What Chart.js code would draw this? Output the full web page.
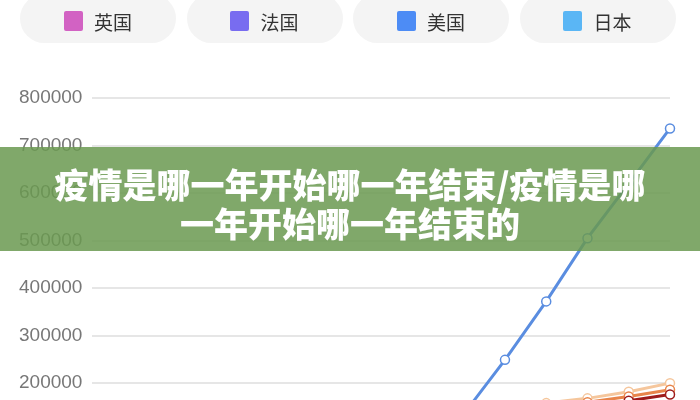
<!DOCTYPE html>
<html>
<head>
<meta charset="utf-8">
<script src="https://cdn.jsdelivr.net/npm/chart.js@4/dist/chart.umd.min.js"></script>
<style>
html,body{margin:0;padding:0;width:700px;height:400px;overflow:hidden;background:#fff;}
#wrap{position:absolute;left:0;top:0;width:700px;height:509px;}
#legend{position:absolute;left:0;top:0;width:700px;height:50px;}
.pill{position:absolute;top:-6px;width:156px;height:49px;border-radius:25px;background:#f4f4f4;
  display:flex;align-items:center;justify-content:center;padding-top:5px;box-sizing:border-box;
  font:19px "Noto Sans CJK SC",sans-serif;color:#333;}
.pill i{display:inline-block;width:19px;height:20px;border-radius:2px;margin-right:11px;}
#banner{position:absolute;left:0;top:147px;width:700px;height:104px;background:rgba(106,153,80,0.85);
  color:#fff;font:900 34px "Noto Sans CJK SC",sans-serif;text-align:center;line-height:39px;
  padding-top:17px;box-sizing:border-box;}
</style>
</head>
<body>
<div id="wrap"><canvas id="c"></canvas></div>
<div id="legend"></div>
<div id="banner">疫情是哪一年开始哪一年结束/疫情是哪<br>一年开始哪一年结束的</div>
<script>
// ====== dados ======
const dates = ['3/20','3/23','3/26','3/29','4/1','4/4','4/7','4/10','4/13','4/16','4/19','4/22','4/25','4/28','5/1'];
const usa    = [100, 500, 1700, 3500, 6400, 15000, 33000, 62000, 100000, 135000, 249000, 372000, 505000, 620000, 736000];
const spain  = [2000, 6000, 13000, 25000, 40000, 60000, 80000, 100000, 118000, 135000, 148000, 158000, 168000, 182000, 200000];
const germany= [1500, 5000, 11000, 22000, 37000, 55000, 74000, 92000, 110000, 126000, 140000, 150000, 160000, 172000, 186000];
const italy  = [3000, 8000, 15000, 27000, 41000, 58000, 75000, 92000, 105000, 118000, 130000, 142000, 152000, 163000, 176000];
const france = [1000, 3000, 7000, 14000, 25000, 38000, 52000, 66000, 80000, 93000, 106000, 118000, 128000, 138000, 147000];
const uk     = [500, 1500, 3500, 7000, 12000, 20000, 30000, 42000, 55000, 68000, 80000, 90000, 98000, 104000, 110000];
const japan  = [100, 200, 400, 700, 1000, 1500, 2200, 3000, 4000, 5200, 6500, 7600, 8600, 9500, 10300];
const yTicks = [0, 100000, 200000, 300000, 400000, 500000, 600000, 700000, 800000];

// legenda visível (linha de baixo)
const legendNames  = ['英国','法国','美国','日本'];
const legendColors = ['#d262c3','#786cf0','#4d8cf5','#5ab6f5'];

// ====== legenda ======
const lg = document.getElementById('legend');
legendNames.forEach((n,i)=>{
  const p = document.createElement('div');
  p.className = 'pill';
  p.style.left = (20 + i*166.5) + 'px';
  p.innerHTML = `<i style="background:${legendColors[i]}"></i><span>${n}</span>`;
  lg.appendChild(p);
});

const ds = (label, data, color) => ({
  label, data,
  borderColor: color,
  backgroundColor: '#fff',
  borderWidth: 3,
  pointRadius: 4.5,
  pointBorderWidth: 1.5,
  pointBorderColor: color,
  pointBackgroundColor: '#fff',
  tension: 0
});

new Chart(document.getElementById('c').getContext('2d'), {
  type: 'line',
  data: {
    labels: dates,
    datasets: [
      ds('日本', japan, '#5ab6f5'),
      ds('英国', uk, '#d262c3'),
      ds('法国', france, '#786cf0'),
      ds('意大利', italy, '#9e1b1b'),
      ds('德国', germany, '#e8844a'),
      ds('西班牙', spain, '#f5c69c'),
      ds('美国', usa, '#5a8de0')
    ]
  },
  options: {
    animation: false,
    maintainAspectRatio: false,
    responsive: true,
    layout: { padding: { left: 9, right: 30, top: 98, bottom: 0 } },
    plugins: { legend: { display: false }, tooltip: { enabled: false } },
    scales: {
      y: {
        min: 0, max: 800000,
        afterBuildTicks: s => { s.ticks = yTicks.map(v => ({ value: v })); },
        grid: { color: '#e6e6e6', lineWidth: 2, drawTicks: false },
        border: { display: false },
        ticks: { padding: 10, color: '#777', font: { family: '"Liberation Sans", Arial', size: 19 },
                 callback: v => String(v) }
      },
      x: {
        grid: { display: false },
        border: { display: false },
        ticks: { color: '#777', maxRotation: 0, minRotation: 0, autoSkip: true,
                 font: { family: '"Liberation Sans", Arial', size: 14 } }
      }
    }
  }
});
</script>
</body>
</html>
